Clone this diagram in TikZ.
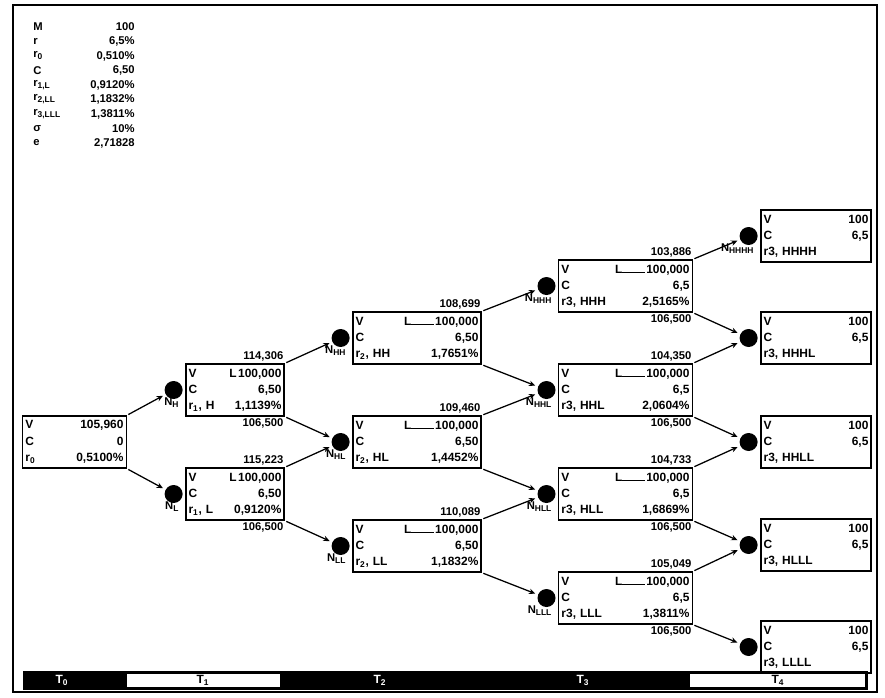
\documentclass[tikz,border=0pt]{standalone}
\usepackage{fontspec}
\setmainfont{Liberation Sans}
\usetikzlibrary{arrows.meta,positioning}

\newcommand{\cellrow}[2]{\makebox[\linewidth]{#1\hfill#2}}
\newcommand{\lmark}[1]{L\rule{#1}{0.6pt}\hspace{1pt}}

\tikzset{
  rbox/.style={rectangle,draw,line width=1.1pt,text width=#1,
    minimum height=1.3cm,inner xsep=2pt,inner ysep=1pt,align=left,
    font=\fontsize{8.5}{11.5}\selectfont\bfseries},
  knot/.style={circle,fill,inner sep=0pt,minimum size=0.45cm},
  conn/.style={-{Stealth[length=4.5pt,width=4pt]},line width=0.9pt,
    shorten >=2pt,shorten <=1pt},
  val/.style={inner sep=1pt,font=\fontsize{8}{9}\selectfont\bfseries},
  nlab/.style={inner sep=0.5pt,anchor=north east,
    font=\fontsize{8}{9}\selectfont\bfseries},
  parl/.style={anchor=west,inner sep=0pt,font=\fontsize{8}{9}\selectfont\bfseries},
  parv/.style={anchor=east,inner sep=0pt,font=\fontsize{8}{9}\selectfont\bfseries},
  tlab/.style={inner sep=1pt,font=\fontsize{8.5}{9}\selectfont\bfseries},
}

\begin{document}
\begin{tikzpicture}[x=0.025cm,y=-0.025cm]
  \useasboundingbox (0,0) rectangle (885,697);
  \draw[line width=1.2pt] (13,5) rectangle (877,692);

  % input values
  \foreach \lab/\num [count=\i] in {{M}/{100}, {r}/{6,5\%},
      {r\textsubscript{0}}/{0,510\%}, {C}/{6,50},
      {r\textsubscript{1,L}}/{0,9120\%}, {r\textsubscript{2,LL}}/{1,1832\%},
      {r\textsubscript{3,LLL}}/{1,3811\%}, {σ}/{10\%}, {e}/{2,71828}}{
    \node[parl] (pl\i) at (33,{12.5+14.5*\i}) {\lab};
    \node[parv] (pv\i) at (135,{12.5+14.5*\i}) {\num};
  }

  % T0
  \node[rbox=2.45cm] (b0) at (74.5,442)
    {\cellrow{V}{105,960}\\\cellrow{C}{0}\\\cellrow{r\textsubscript{0}}{0,5100\%}};

  % T1
  \node[rbox=2.32cm] (bH) at (235,390)
    {\cellrow{V}{\lmark{0pt}100,000}\\\cellrow{C}{6,50}\\\cellrow{r\textsubscript{1}, H}{1,1139\%}};
  \node[rbox=2.32cm] (bL) at (235,494)
    {\cellrow{V}{\lmark{0pt}100,000}\\\cellrow{C}{6,50}\\\cellrow{r\textsubscript{1}, L}{0,9120\%}};

  % T2
  \node[rbox=3.07cm] (bHH) at (417,338)
    {\cellrow{V}{\lmark{16pt}100,000}\\\cellrow{C}{6,50}\\\cellrow{r\textsubscript{2}, HH}{1,7651\%}};
  \node[rbox=3.07cm] (bHL) at (417,442)
    {\cellrow{V}{\lmark{16pt}100,000}\\\cellrow{C}{6,50}\\\cellrow{r\textsubscript{2}, HL}{1,4452\%}};
  \node[rbox=3.07cm] (bLL) at (417,546)
    {\cellrow{V}{\lmark{16pt}100,000}\\\cellrow{C}{6,50}\\\cellrow{r\textsubscript{2}, LL}{1,1832\%}};

  % T3
  \node[rbox=3.2cm] (bHHH) at (625.5,286)
    {\cellrow{V}{\lmark{16pt}100,000}\\\cellrow{C}{6,5}\\\cellrow{r3, HHH}{2,5165\%}};
  \node[rbox=3.2cm] (bHHL) at (625.5,390)
    {\cellrow{V}{\lmark{16pt}100,000}\\\cellrow{C}{6,5}\\\cellrow{r3, HHL}{2,0604\%}};
  \node[rbox=3.2cm] (bHLL) at (625.5,494)
    {\cellrow{V}{\lmark{16pt}100,000}\\\cellrow{C}{6,5}\\\cellrow{r3, HLL}{1,6869\%}};
  \node[rbox=3.2cm] (bLLL) at (625.5,598)
    {\cellrow{V}{\lmark{16pt}100,000}\\\cellrow{C}{6,5}\\\cellrow{r3, LLL}{1,3811\%}};

  % T4
  \node[rbox=2.62cm] (bHHHH) at (816,236)
    {\cellrow{V}{100}\\\cellrow{C}{6,5}\\\cellrow{r3, HHHH}{}};
  \node[rbox=2.62cm] (bHHHL) at (816,338)
    {\cellrow{V}{100}\\\cellrow{C}{6,5}\\\cellrow{r3, HHHL}{}};
  \node[rbox=2.62cm] (bHHLL) at (816,442)
    {\cellrow{V}{100}\\\cellrow{C}{6,5}\\\cellrow{r3, HHLL}{}};
  \node[rbox=2.62cm] (bHLLL) at (816,545)
    {\cellrow{V}{100}\\\cellrow{C}{6,5}\\\cellrow{r3, HLLL}{}};
  \node[rbox=2.62cm] (bLLLL) at (816,647)
    {\cellrow{V}{100}\\\cellrow{C}{6,5}\\\cellrow{r3, LLLL}{}};

  % knots
  \foreach \k in {H,L,HH,HL,LL,HHH,HHL,HLL,LLL,HHHH,HHHL,HHLL,HLLL,LLLL}
    \node[knot,left=1.5pt of b\k] (k\k) {};

  % node names
  \foreach \k in {H,L,HH,HL,LL,HHH,HHL,HLL,LLL,HHHH}
    \node[nlab] (n\k) at (k\k.south east) {N\textsubscript{\k}};

  % values above and below
  \node[val,anchor=south east] (aH) at (bH.north east) {114,306};
  \node[val,anchor=south east] (aL) at (bL.north east) {115,223};
  \node[val,anchor=south east] (aHH) at (bHH.north east) {108,699};
  \node[val,anchor=south east] (aHL) at (bHL.north east) {109,460};
  \node[val,anchor=south east] (aLL) at (bLL.north east) {110,089};
  \node[val,anchor=south east] (aHHH) at (bHHH.north east) {103,886};
  \node[val,anchor=south east] (aHHL) at (bHHL.north east) {104,350};
  \node[val,anchor=south east] (aHLL) at (bHLL.north east) {104,733};
  \node[val,anchor=south east] (aLLL) at (bLLL.north east) {105,049};
  \foreach \k in {H,L,HHH,HHL,HLL,LLL}
    \node[val,anchor=north east] (u\k) at (b\k.south east) {106,500};

  % branches
  \draw[conn] (b0.north east) -- (kH);
  \draw[conn] (b0.south east) -- (kL);
  \draw[conn] (bH.north east) -- (kHH);
  \draw[conn] (bH.south east) -- (kHL);
  \draw[conn] (bL.north east) -- (kHL);
  \draw[conn] (bL.south east) -- (kLL);
  \draw[conn] (bHH.north east) -- (kHHH);
  \draw[conn] (bHH.south east) -- (kHHL);
  \draw[conn] (bHL.north east) -- (kHHL);
  \draw[conn] (bHL.south east) -- (kHLL);
  \draw[conn] (bLL.north east) -- (kHLL);
  \draw[conn] (bLL.south east) -- (kLLL);
  \draw[conn] (bHHH.north east) -- (kHHHH);
  \draw[conn] (bHHH.south east) -- (kHHHL);
  \draw[conn] (bHHL.north east) -- (kHHHL);
  \draw[conn] (bHHL.south east) -- (kHHLL);
  \draw[conn] (bHLL.north east) -- (kHHLL);
  \draw[conn] (bHLL.south east) -- (kHLLL);
  \draw[conn] (bLLL.north east) -- (kHLLL);
  \draw[conn] (bLLL.south east) -- (kLLLL);

  % time axis
  \fill (23,671) rectangle (868,690);
  \fill[white] (127,674) rectangle (280,687);
  \fill[white] (690,674) rectangle (865,687);
  \node[tlab,text=white] (t0) at (62,680.5) {T\textsubscript{0}};
  \node[tlab] (t1) at (203,680.5) {T\textsubscript{1}};
  \node[tlab,text=white] (t2) at (380,680.5) {T\textsubscript{2}};
  \node[tlab,text=white] (t3) at (583,680.5) {T\textsubscript{3}};
  \node[tlab] (t4) at (778,680.5) {T\textsubscript{4}};
\end{tikzpicture}
\end{document}
